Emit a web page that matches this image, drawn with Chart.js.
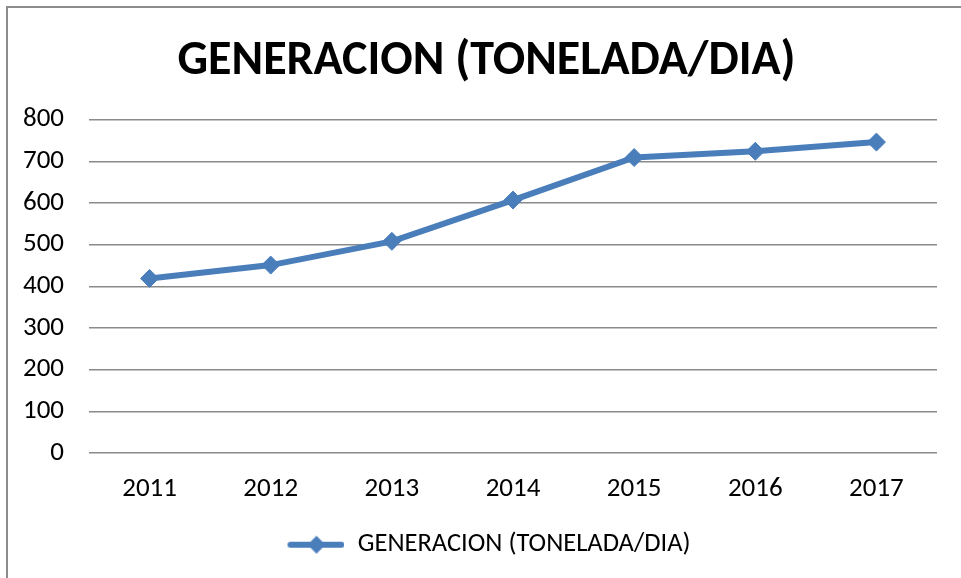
<!DOCTYPE html>
<html>
<head>
<meta charset="utf-8">
<script src="https://cdn.jsdelivr.net/npm/chart.js@4/dist/chart.umd.min.js"></script>
<style>
  html, body { margin: 0; padding: 0; background: #fff; }
  #wrap { width: 961px; height: 578px; }
</style>
</head>
<body>
<div id="wrap"><canvas id="chart" width="961" height="578"></canvas></div>
<script>
const years = ["2011", "2012", "2013", "2014", "2015", "2016", "2017"];
const generacion = [419, 451, 508, 607, 709, 724, 746];
const seriesLabel = "GENERACION (TONELADA/DIA)";
const titleText = "GENERACION (TONELADA/DIA)";

const blue = "#4a7ebb";
const fontFamily = "Carlito, Lato, 'Open Sans', sans-serif";

// legend marker: line with a diamond in the middle
function legendMarker() {
  const c = document.createElement("canvas");
  c.width = 58;
  c.height = 22;
  const ctx = c.getContext("2d");
  ctx.strokeStyle = blue;
  ctx.lineWidth = 6;
  ctx.lineCap = "round";
  ctx.beginPath();
  ctx.moveTo(4, 11);
  ctx.lineTo(55, 11);
  ctx.stroke();
  ctx.fillStyle = blue;
  ctx.beginPath();
  ctx.moveTo(30, 2);
  ctx.lineTo(39, 11);
  ctx.lineTo(30, 20);
  ctx.lineTo(21, 11);
  ctx.closePath();
  ctx.fill();
  return c;
}

// grey frame of the chart object, plus centering title and legend like the original
const frame = {
  id: "frame",
  afterLayout(chart) {
    chart.titleBlock.left = 36;
    chart.legend.left = 40;
  },
  beforeDraw(chart) {
    const ctx = chart.ctx;
    ctx.save();
    ctx.strokeStyle = "#8c8c8c";
    ctx.lineWidth = 2;
    ctx.strokeRect(7, 7, 1100, 1100);
    ctx.restore();
  }
};

new Chart(document.getElementById("chart"), {
  type: "line",
  data: {
    labels: years,
    datasets: [
      {
        label: seriesLabel,
        data: generacion,
        borderColor: blue,
        backgroundColor: blue,
        borderWidth: 6,
        pointStyle: "rectRot",
        pointRadius: 9,
        pointHoverRadius: 9,
        pointBackgroundColor: blue,
        pointBorderColor: blue,
        pointBorderWidth: 1,
        tension: 0,
      },
    ],
  },
  options: {
    responsive: false,
    animation: false,
    layout: { padding: { left: 0, right: 24, top: 0, bottom: 10 } },
    plugins: {
      title: {
        display: true,
        text: titleText,
        color: "#000",
        font: { family: fontFamily, size: 48, weight: "bold" },
        padding: { top: 33, bottom: 29 },
      },
      legend: {
        position: "bottom",
        labels: {
          color: "#000",
          font: { family: fontFamily, size: 26.5 },
          usePointStyle: true,
          pointStyleWidth: 58,
          padding: 6,
          generateLabels: (chart) => [
            {
              text: seriesLabel,
              pointStyle: legendMarker(),
              fillStyle: blue,
              strokeStyle: blue,
              lineWidth: 0,
              datasetIndex: 0,
            },
          ],
        },
      },
      tooltip: { enabled: false },
    },
    scales: {
      x: {
        offset: true,
        grid: { display: false, drawTicks: false },
        border: { display: false },
        ticks: { color: "#000", font: { family: fontFamily, size: 27 }, padding: 20 },
      },
      y: {
        min: 0,
        max: 800,
        afterFit: (scale) => { scale.width = 89; },
        grid: { color: "#8a8a8a", lineWidth: 1.5, drawTicks: false },
        border: { display: false },
        ticks: { stepSize: 100, color: "#000", font: { family: fontFamily, size: 27 }, padding: 25 },
      },
    },
  },
  plugins: [frame],
});
</script>
</body>
</html>
